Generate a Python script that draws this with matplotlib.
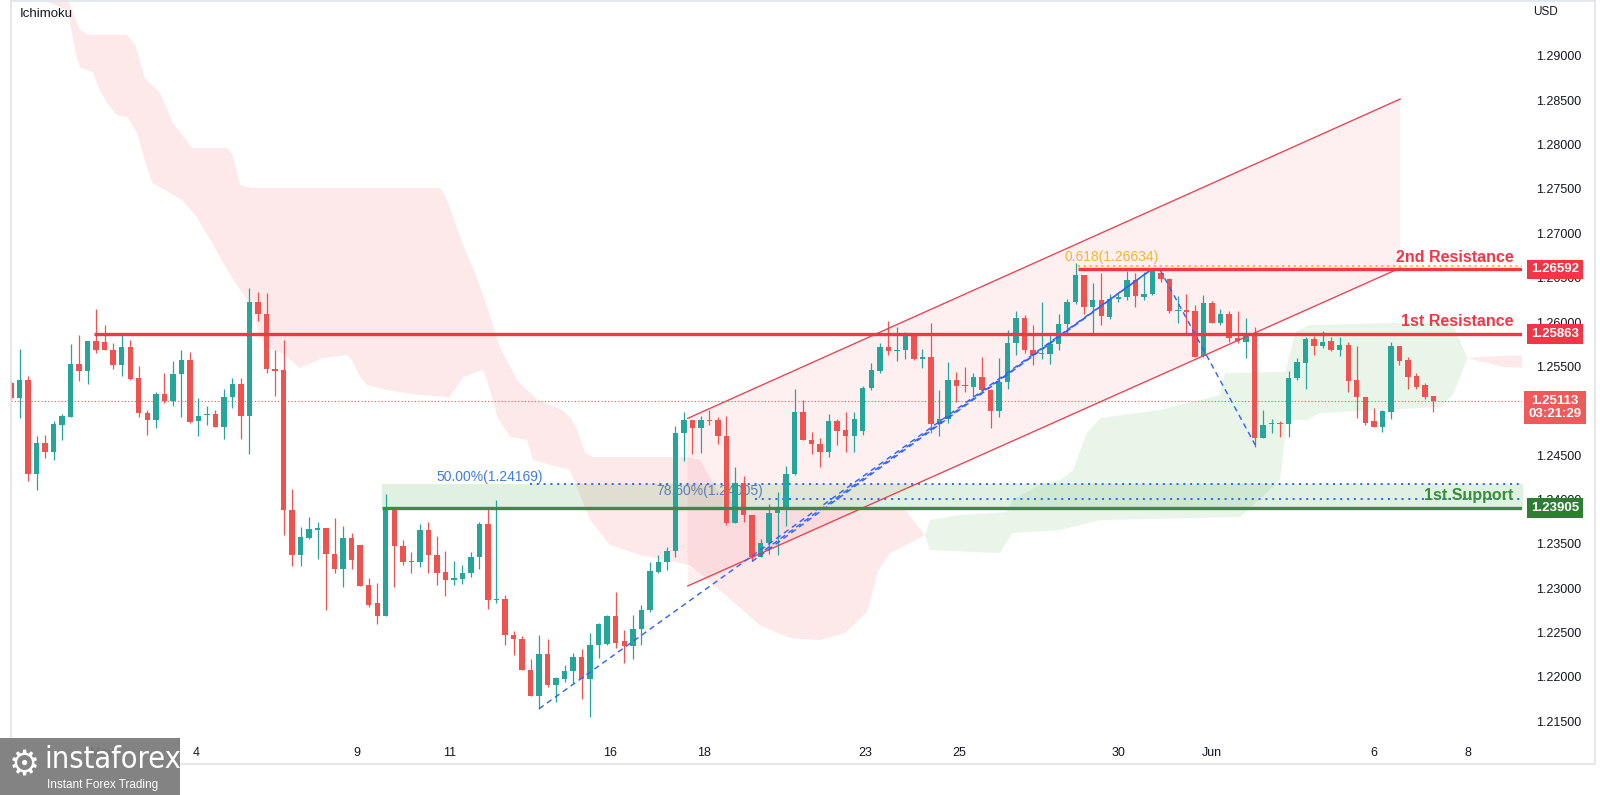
import numpy as np
import matplotlib
matplotlib.use("Agg")
import matplotlib.pyplot as plt
from matplotlib.transforms import blended_transform_factory
from matplotlib.lines import Line2D
from matplotlib.patches import Rectangle

plt.rcParams['font.family'] = ['Liberation Sans', 'DejaVu Sans']

# ---------------- data (GBPUSD 4h candles) ----------------
opens = [
1.2531,1.2514,1.2535,1.2429,1.2464,1.2453,1.2484,1.2493,1.2553,1.2545,
1.2579,1.2578,1.2569,1.2551,1.2572,1.2537,1.2497,1.2490,1.2519,1.2511,
1.2541,1.2557,1.2488,1.2495,1.2496,1.2482,1.2515,1.2530,1.2494,1.2623,
1.2609,1.2547,1.2546,1.2388,1.2337,1.2356,1.2366,1.2368,1.2339,1.2321,
1.2357,1.2349,1.2303,1.2283,1.2268,1.2389,1.2347,1.2330,1.2329,1.2365,
1.2337,1.2318,1.2309,1.2310,1.2317,1.2335,1.2372,1.2287,1.2288,1.2247,
1.2243,1.2208,1.2178,1.2226,1.2191,1.2198,1.2206,1.2222,1.2198,1.2236,
1.2237,1.2269,1.2240,1.2235,1.2254,1.2275,1.2318,1.2329,1.2342,1.2475,
1.2489,1.2480,1.2490,1.2489,1.2471,1.2373,1.2419,1.2382,1.2335,1.2351,
1.2385,1.2391,1.2429,1.2499,1.2467,1.2462,1.2454,1.2488,1.2478,1.2471,
1.2477,1.2526,1.2545,1.2572,1.2567,1.2568,1.2586,1.2558,1.2560,1.2485,
1.2491,1.2535,1.2529,1.2527,1.2538,1.2523,1.2500,1.2532,1.2576,1.2604,
1.2568,1.2564,1.2564,1.2575,1.2598,1.2622,1.2653,1.2617,1.2625,1.2606,
1.2626,1.2628,1.2647,1.2628,1.2632,1.2655,1.2649,1.2612,1.2613,1.2612,
1.2562,1.2621,1.2599,1.2609,1.2582,1.2578,1.2586,1.2469,1.2485,1.2486,
1.2485,1.2537,1.2554,1.2581,1.2573,1.2579,1.2569,1.2574,1.2535,1.2515,
1.2488,1.2482,1.2499,1.2573,1.2557,1.2539,1.2529,1.2517]

highs = [
1.2533,1.2570,1.2539,1.2471,1.2473,1.2488,1.2496,1.2575,1.2585,1.2579,
1.2615,1.2597,1.2576,1.2588,1.2580,1.2550,1.2501,1.2521,1.2542,1.2556,
1.2568,1.2566,1.2514,1.2505,1.2501,1.2524,1.2537,1.2537,1.2638,1.2634,
1.2633,1.2568,1.2580,1.2412,1.2369,1.2380,1.2374,1.2368,1.2379,1.2370,
1.2362,1.2349,1.2311,1.2306,1.2406,1.2389,1.2354,1.2341,1.2372,1.2375,
1.2359,1.2342,1.2331,1.2326,1.2341,1.2374,1.2389,1.2399,1.2292,1.2252,
1.2246,1.2220,1.2247,1.2243,1.2200,1.2213,1.2227,1.2231,1.2249,1.2261,
1.2270,1.2296,1.2253,1.2270,1.2281,1.2329,1.2337,1.2346,1.2483,1.2499,
1.2489,1.2494,1.2501,1.2493,1.2494,1.2437,1.2426,1.2382,1.2355,1.2395,
1.2408,1.2438,1.2525,1.2512,1.2476,1.2469,1.2496,1.2491,1.2499,1.2498,
1.2528,1.2554,1.2576,1.2601,1.2594,1.2589,1.2586,1.2570,1.2599,1.2523,
1.2555,1.2544,1.2549,1.2543,1.2560,1.2524,1.2559,1.2591,1.2612,1.2608,
1.2597,1.2622,1.2586,1.2609,1.2626,1.2667,1.2653,1.2644,1.2655,1.2632,
1.2633,1.2657,1.2655,1.2656,1.2661,1.2656,1.2650,1.2629,1.2632,1.2619,
1.2630,1.2624,1.2615,1.2612,1.2612,1.2605,1.2594,1.2501,1.2491,1.2488,
1.2545,1.2559,1.2583,1.2584,1.2590,1.2583,1.2583,1.2577,1.2573,1.2516,
1.2503,1.2501,1.2577,1.2573,1.2560,1.2543,1.2531,1.2517]

lows = [
1.2512,1.2492,1.2421,1.2411,1.2447,1.2444,1.2467,1.2493,1.2533,1.2530,
1.2565,1.2568,1.2547,1.2539,1.2535,1.2493,1.2473,1.2480,1.2509,1.2505,
1.2493,1.2486,1.2471,1.2484,1.2482,1.2468,1.2503,1.2468,1.2451,1.2601,
1.2542,1.2517,1.2360,1.2325,1.2325,1.2355,1.2333,1.2275,1.2317,1.2301,
1.2322,1.2302,1.2279,1.2259,1.2268,1.2301,1.2326,1.2317,1.2324,1.2317,
1.2303,1.2291,1.2303,1.2305,1.2312,1.2322,1.2276,1.2283,1.2236,1.2225,
1.2208,1.2178,1.2164,1.2188,1.2172,1.2194,1.2193,1.2175,1.2155,1.2221,
1.2236,1.2233,1.2216,1.2220,1.2236,1.2273,1.2317,1.2320,1.2335,1.2443,
1.2451,1.2452,1.2484,1.2463,1.2371,1.2373,1.2374,1.2330,1.2335,1.2338,
1.2337,1.2370,1.2428,1.2467,1.2451,1.2437,1.2448,1.2461,1.2454,1.2454,
1.2473,1.2523,1.2542,1.2563,1.2556,1.2558,1.2557,1.2548,1.2475,1.2471,
1.2486,1.2510,1.2521,1.2516,1.2521,1.2481,1.2493,1.2524,1.2563,1.2565,
1.2552,1.2558,1.2553,1.2568,1.2586,1.2620,1.2609,1.2586,1.2597,1.2603,
1.2622,1.2625,1.2617,1.2625,1.2630,1.2645,1.2610,1.2599,1.2587,1.2560,
1.2560,1.2599,1.2597,1.2578,1.2576,1.2559,1.2459,1.2469,1.2475,1.2470,
1.2470,1.2535,1.2525,1.2563,1.2571,1.2567,1.2562,1.2521,1.2492,1.2484,
1.2482,1.2476,1.2491,1.2551,1.2525,1.2525,1.2513,1.2499]

closes = [
1.2514,1.2535,1.2429,1.2464,1.2453,1.2485,1.2494,1.2553,1.2545,1.2579,
1.2568,1.2568,1.2551,1.2572,1.2536,1.2497,1.2490,1.2519,1.2511,1.2541,
1.2557,1.2487,1.2494,1.2496,1.2482,1.2515,1.2530,1.2494,1.2623,1.2609,
1.2547,1.2545,1.2388,1.2337,1.2358,1.2367,1.2368,1.2339,1.2321,1.2357,
1.2332,1.2302,1.2281,1.2268,1.2390,1.2347,1.2329,1.2329,1.2365,1.2337,
1.2317,1.2309,1.2311,1.2317,1.2335,1.2372,1.2287,1.2288,1.2247,1.2243,
1.2208,1.2178,1.2226,1.2191,1.2199,1.2207,1.2222,1.2198,1.2236,1.2260,
1.2269,1.2238,1.2235,1.2254,1.2275,1.2319,1.2329,1.2342,1.2475,1.2489,
1.2480,1.2490,1.2488,1.2471,1.2373,1.2419,1.2382,1.2335,1.2351,1.2385,
1.2391,1.2429,1.2499,1.2467,1.2462,1.2454,1.2488,1.2477,1.2471,1.2491,
1.2526,1.2546,1.2572,1.2567,1.2568,1.2588,1.2558,1.2560,1.2485,1.2491,
1.2535,1.2528,1.2528,1.2538,1.2523,1.2500,1.2532,1.2576,1.2604,1.2568,
1.2563,1.2565,1.2575,1.2598,1.2622,1.2653,1.2617,1.2625,1.2607,1.2626,
1.2628,1.2647,1.2629,1.2632,1.2659,1.2648,1.2612,1.2613,1.2611,1.2561,
1.2621,1.2599,1.2609,1.2582,1.2579,1.2586,1.2469,1.2484,1.2486,1.2485,
1.2537,1.2555,1.2581,1.2573,1.2578,1.2569,1.2574,1.2534,1.2515,1.2486,
1.2482,1.2500,1.2573,1.2556,1.2538,1.2527,1.2516,1.25113]

# Ichimoku cloud outline (bar index, price)
red_cloud_top_x = [0, 6.7, 8.1, 9.0, 13.6, 14.6, 15.7, 17.5, 19.0, 21.3, 25.4, 26.0, 26.9, 28.1,
                   50.4, 51.2, 53.3, 54.7, 55.9, 57.4, 59.4, 61.8, 64.7, 65.6, 66.5, 67.4, 68.3,
                   79.4, 80.9, 82.9, 85.6, 105.0, 107.3]
red_cloud_top_y = [1.3050, 1.29630, 1.29292, 1.29236, 1.29236, 1.29123, 1.28751, 1.28582, 1.28243,
                   1.27962, 1.27962, 1.27883, 1.27544, 1.27511, 1.27511, 1.27375, 1.26812, 1.26507,
                   1.26169, 1.25718, 1.25346, 1.25121, 1.25008, 1.24929, 1.24782, 1.24523, 1.24478,
                   1.24478, 1.24444, 1.24106, 1.23914, 1.23880, 1.23598]
red_cloud_bot_x = [0, 3.8, 6.6, 7.7, 8.1, 9.6, 10.4, 11.3, 12.4, 13.7, 14.8, 15.7, 16.6, 18.7,
                   20.1, 21.8, 23.4, 25.4, 26.9, 28.4, 29.2, 30.1, 32.2, 33.9, 36.6, 39.5, 40.0,
                   41.0, 41.8, 44.1, 48.0, 51.5, 53.1, 55.4, 55.9, 57.1, 58.6, 60.6, 61.3, 65.6,
                   68.0, 70.3, 73.9, 79.7, 83.2, 87.9, 91.5, 95.0, 97.9, 100.5, 101.8, 103.2, 107.3]
red_cloud_bot_y = [1.3000, 1.29630, 1.29517, 1.28987, 1.28874, 1.28818, 1.28615, 1.28468, 1.28333,
                   1.28310, 1.28130, 1.27825, 1.27566, 1.27454, 1.27375, 1.27183, 1.26924, 1.26586,
                   1.26361, 1.26169, 1.25831, 1.25718, 1.25628, 1.25481, 1.25594, 1.25628, 1.25571,
                   1.25380, 1.25290, 1.25233, 1.25177, 1.25154, 1.25380, 1.25459, 1.25346, 1.24929,
                   1.24704, 1.24670, 1.24444, 1.24331, 1.23767, 1.23486, 1.23373, 1.23260, 1.22978,
                   1.22583, 1.22436, 1.22414, 1.22493, 1.22730, 1.23192, 1.23395, 1.23598]
green_cloud_top_x = [107.3, 107.9, 111.4, 116.9, 117.6, 121.2, 123.2, 124.7, 126.3, 127.9, 134.9,
                     141.9, 142.5, 149.6, 150.8, 152.5, 167.8, 169.3, 171.0]
green_cloud_top_y = [1.23598, 1.23767, 1.23824, 1.23858, 1.23993, 1.24185, 1.24218, 1.24331, 1.24749,
                     1.24918, 1.25008, 1.25177, 1.25425, 1.25437, 1.25888, 1.25966, 1.26000, 1.25966,
                     1.25594]
green_cloud_bot_x = [107.3, 107.9, 116.1, 117.6, 123.2, 127.9, 144.3, 149.0, 149.8, 152.2, 153.7,
                     167.8, 169.3, 171.0]
green_cloud_bot_y = [1.23598, 1.23429, 1.23395, 1.23620, 1.23655, 1.23767, 1.23801, 1.24218, 1.24895,
                     1.24895, 1.24974, 1.25042, 1.25177, 1.25594]
red2_top_x = [171.0, 172.5, 175.2, 178.4]
red2_top_y = [1.25594, 1.25606, 1.25617, 1.25628]
red2_bot_x = [171.0, 175.2, 178.4]
red2_bot_y = [1.25594, 1.25493, 1.25481]

# levels
res1, res1_from = 1.25863, 9.8
res2, res2_from = 1.26592, 125.3
sup1, sup1_from = 1.23905, 43.6
fib50, fib50_label_at = 1.24169, 49.9
fib786, fib786_label_at = 1.24005, 75.8
fib618, fib618_from = 1.26634, 125.3
last_price, last_time = 1.25113, "03:21:29"

# ascending channel (index, price)
chan_x = [79.45, 163.1]
chan_upper = [1.24914, 1.28514]
chan_lower = [1.23024, 1.26609]

# blue dashed swing lines (index pairs, price pairs)
swing_lines = [
    ([62, 134], [1.2164, 1.2660]),
    ([87, 134], [1.2330, 1.2660]),
    ([88.5, 134], [1.2343, 1.2660]),
    ([134.9, 146.1], [1.2659, 1.2461]),
]

date_labels = ['May', '4', '9', '11', '16', '18', '23', '25', '30', 'Jun', '6', '8']
date_pos = [10.7, 21.7, 40.6, 51.5, 70.3, 81.4, 100.3, 111.3, 130.0, 141.0, 160.0, 171.0]
price_ticks = [1.215, 1.220, 1.225, 1.230, 1.235, 1.240, 1.245, 1.250, 1.255, 1.260,
               1.265, 1.270, 1.275, 1.280, 1.285, 1.290]

# ---------------- figure ----------------
W, H = 1600, 795
fig = plt.figure(figsize=(W / 100, H / 100), dpi=100)
fig.patch.set_facecolor('white')
ax = fig.add_axes([11 / W, (H - 740) / H, (1522 - 11) / W, (740 - 1) / H])
ax.set_xlim(0, 177.4)
ax.set_ylim(1.212875, 1.296190)
for s in ax.spines.values():
    s.set_visible(False)

RED = '#f23645'
UP = '#26a69a'
DOWN = '#ef5350'
BLUE = '#2962ff'

# cloud
ax.fill(red_cloud_top_x + red_cloud_bot_x[::-1], red_cloud_top_y + red_cloud_bot_y[::-1],
        color=RED, alpha=0.11, lw=0, zorder=1)
ax.fill(green_cloud_top_x + green_cloud_bot_x[::-1], green_cloud_top_y + green_cloud_bot_y[::-1],
        color='#4caf50', alpha=0.12, lw=0, zorder=1)
ax.fill(red2_top_x + red2_bot_x[::-1], red2_top_y + red2_bot_y[::-1],
        color=RED, alpha=0.11, lw=0, zorder=1)

# channel
ax.fill(chan_x + chan_x[::-1], chan_upper + chan_lower[::-1], color=RED, alpha=0.07, lw=0, zorder=1.5)
ax.plot(chan_x, chan_upper, color=RED, lw=0.9, zorder=7)
ax.plot(chan_x, chan_lower, color=RED, lw=0.9, zorder=7)

# support zone
ax.fill_between([sup1_from, 178.5], sup1, fib50, color='#4caf50', alpha=0.17, lw=0, zorder=1.6)

# fib texts / dotted lines
ax.annotate('50.00%(1.24169)', xy=(fib50_label_at, fib50), xytext=(0, 0.5), textcoords='offset points',
            color='#3d7be8', fontsize=10, ha='left', va='bottom', zorder=3)
ax.hlines(fib50, fib50_label_at + 11.0, 178.5, color=BLUE, lw=1.4, linestyles=(0, (1, 2.5)), zorder=3)
ax.annotate('78.60%(1.24005)', xy=(fib786_label_at, fib786), xytext=(0, 0.5), textcoords='offset points',
            color='#5b7fb8', fontsize=10, ha='left', va='bottom', zorder=3)
ax.hlines(fib786, fib786_label_at + 11.6, 178.5, color=BLUE, lw=1.4, linestyles=(0, (1, 2.5)), zorder=3)
ax.annotate('0.618(1.26634)', xy=(fib618_from - 1.6, fib618), xytext=(0, 1.5), textcoords='offset points',
            color='#f5b335', fontsize=10, ha='left', va='bottom', zorder=8)
ax.hlines(fib618, fib618_from, 178.5, color='#f5b335', lw=1.4, linestyles=(0, (1, 2)), zorder=7)

# current price dotted line
ax.axhline(last_price, color=DOWN, lw=0.8, ls=(0, (1, 2)), zorder=2)

# candles
o = np.array(opens); h = np.array(highs); l = np.array(lows); c = np.array(closes)
h = np.maximum(h, np.maximum(o, c)); l = np.minimum(l, np.minimum(o, c))
idx = np.arange(len(c))
col = np.where(c >= o, UP, DOWN)
ax.vlines(idx, l, h, colors=col, lw=0.9, zorder=5)
body_lo = np.minimum(o, c)
body_h = np.maximum(np.abs(c - o), 0.00012)
ax.bar(idx, body_h, bottom=body_lo, width=0.64, color=col, lw=0, zorder=6)

# swing lines
for xs, ys in swing_lines:
    ax.plot(xs, ys, color=BLUE, lw=1.0, ls=(0, (4, 3)), zorder=7)

# levels
ax.hlines(res1, res1_from, 178.5, color=RED, lw=2.4, zorder=8)
ax.hlines(res2, res2_from, 178.5, color=RED, lw=2.4, zorder=8)
ax.hlines(sup1, sup1_from, 178.5, color='#388e3c', lw=2.4, zorder=8)

tr = blended_transform_factory(ax.transAxes, ax.transData)
for txt, lvl, cc in [('2nd Resistance', res2, RED), ('1st Resistance', res1, RED),
                     ('1st.Support', sup1, '#388e3c')]:
    ax.annotate(txt, xy=(1.0, lvl), xycoords=tr, xytext=(-6, 3.5), textcoords='offset points',
                ha='right', va='bottom', color=cc, fontsize=11.5, fontweight='bold', zorder=9)

# axis ticks (the 1.25000 label sits fully under the live-price tag, as in the original)
ax.yaxis.tick_right()
ax.set_yticks(price_ticks)
ax.set_yticklabels(['' if abs(p - 1.25) < 1e-9 else '%.5f' % p for p in price_ticks])
ax.tick_params(axis='y', length=0, pad=10, labelsize=9, labelcolor='#131722')
ax.set_xticks(date_pos)
ax.set_xticklabels(date_labels)
ax.tick_params(axis='x', length=0, pad=5, labelsize=9, labelcolor='#131722')

# price boxes
xc = (1555 - 11) / 1511
def pbox(price, text, color, dy=0):
    ax.annotate(text, xy=(xc, price), xycoords=tr, xytext=(0, dy), textcoords='offset points',
                ha='center', va='center', color='white', fontsize=9.5, fontweight='bold',
                linespacing=1.1, annotation_clip=False, zorder=20,
                bbox=dict(boxstyle='square,pad=0.3', fc=color, ec='none'))
pbox(res2, '%.5f' % res2, RED)
pbox(res1, '%.5f' % res1, RED)
pbox(sup1, '%.5f' % sup1, '#2e7d32')
pbox(last_price, '%.5f\n%s' % (last_price, last_time), '#f05a5a', dy=-5)

# header texts
fig.text(20 / W, 1 - 14 / H, 'Ichimoku', fontsize=9.5, color='#131722', va='center', ha='left')
fig.text(1545 / W, 1 - 12 / H, 'USD', fontsize=8.5, color='#131722', va='center', ha='center')

# frame
fc = '#e0e3eb'
fig.add_artist(Line2D([11 / W, 11 / W], [1 - 764 / H, 1 - 1 / H], transform=fig.transFigure, color=fc, lw=1.2))
fig.add_artist(Line2D([11 / W, 1595 / W], [1 - 764 / H, 1 - 764 / H], transform=fig.transFigure, color=fc, lw=1.2))
fig.add_artist(Line2D([1595 / W, 1595 / W], [1 - 764 / H, 1 - 1 / H], transform=fig.transFigure, color=fc, lw=1.2))
fig.add_artist(Line2D([11 / W, 1595 / W], [1 - 1 / H, 1 - 1 / H], transform=fig.transFigure, color=fc, lw=1.2))

# watermark
fig.add_artist(Rectangle((0, 0), 180 / W, 57 / H, transform=fig.transFigure, fc='#7a7a7a',
                         ec='none', alpha=0.93, zorder=30))
fig.text(24 / W, 1 - 765 / H, '\u2699', fontsize=25, color='white', ha='center', va='center',
         family='DejaVu Sans', zorder=31)
fig.text(44 / W, 1 - 760 / H, 'instaforex', fontsize=22, color='white', ha='left', va='center',
         family='DejaVu Sans', fontstretch='condensed', zorder=31)
fig.text(47 / W, 1 - 785 / H, 'Instant Forex Trading', fontsize=8.5, color='white', ha='left',
         va='center', zorder=31)

fig.savefig('out.png', dpi=100, facecolor='white')
